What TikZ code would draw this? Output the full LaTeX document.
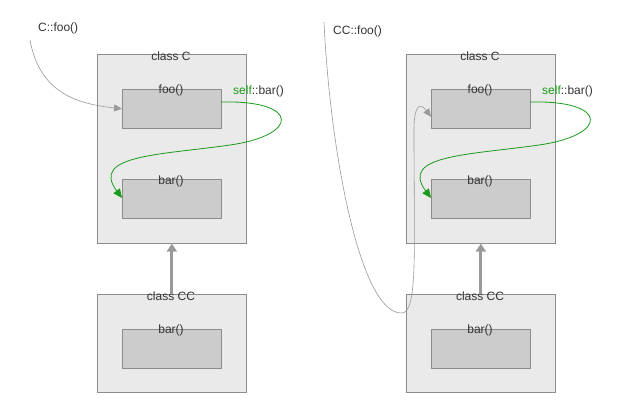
\documentclass[tikz,border=0pt]{standalone}
\usepackage{fontspec}
\setmainfont{Liberation Sans}
\usetikzlibrary{arrows.meta}
\definecolor{gb}{HTML}{EAEAEA}
\definecolor{ib}{HTML}{CCCCCC}
\definecolor{gr}{HTML}{1A9A1A}
\tikzset{
 outer/.style={draw=black!45,fill=gb,line width=0.6pt},
 inner/.style={draw=black!45,fill=ib,line width=0.6pt},
 lab/.style={font=\fontsize{12}{14}\selectfont,text=black!80,inner sep=0pt},
 call/.style={draw=black!40,line width=0.6pt,-{Triangle[length=8pt,width=7pt,fill=black!40]}},
 self/.style={draw=gr,line width=0.8pt,-{Triangle[length=9pt,width=8pt,fill=gr]}},
 inh/.style={draw=black!40,line width=3pt,-{Triangle[length=8pt,width=10pt]}}
}
\begin{document}
\begin{tikzpicture}[x=1pt,y=-1pt]
\useasboundingbox (0,0) rectangle (640,408);
\foreach \o/\p in {0/L,309/R}{
 \begin{scope}[xshift=\o]
 \node[outer,minimum width=149pt,minimum height=189pt,anchor=north west] (C\p) at (97,54) {};
 \node[inner,minimum width=99pt,minimum height=39pt,anchor=north west] (foo\p) at (122,89) {};
 \node[inner,minimum width=99pt,minimum height=39pt,anchor=north west] (bar\p) at (122,179) {};
 \node[outer,minimum width=149pt,minimum height=98pt,anchor=north west] (CC\p) at (97,294) {};
 \node[inner,minimum width=99pt,minimum height=39pt,anchor=north west] (cbar\p) at (122,329) {};
 \node[lab] (tC\p) at (171,56) {class C};
 \node[lab] (tfoo\p) at (171,90) {foo()};
 \node[lab] (tbar\p) at (171,181) {bar()};
 \node[lab] (tCC\p) at (171,296) {class CC};
 \node[lab] (tcbar\p) at (171,330) {bar()};
 \node[lab,anchor=west] (self\p) at (233,91) {\textcolor{gr}{self}::bar()};
 \coordinate (s\p) at (221,102);
 \coordinate (e\p) at (122,198);
 \draw[self] (s\p) .. controls (300,100) and (300,135) .. (230,145) .. controls (160,155) and (90,155) .. (e\p);
 \draw[inh] (CC\p.north) -- (C\p.south);
 \end{scope}
}
\coordinate (a0) at (30,40);
\draw[call] (a0) .. controls (40,95) and (80,104) .. (fooL.west);
\coordinate (a1) at (324,22);
\draw[call] (a1) .. controls (330,150) and (360,315) .. (402,313) .. controls (418,312) and (414,250) .. (414,130) .. controls (414,105) and (420,102) .. ([yshift=-8pt]fooR.west);
\node[lab,anchor=west] (l1) at (38,28) {C::foo()};
\node[lab,anchor=west] (l2) at (333,31) {CC::foo()};
\end{tikzpicture}
\end{document}
